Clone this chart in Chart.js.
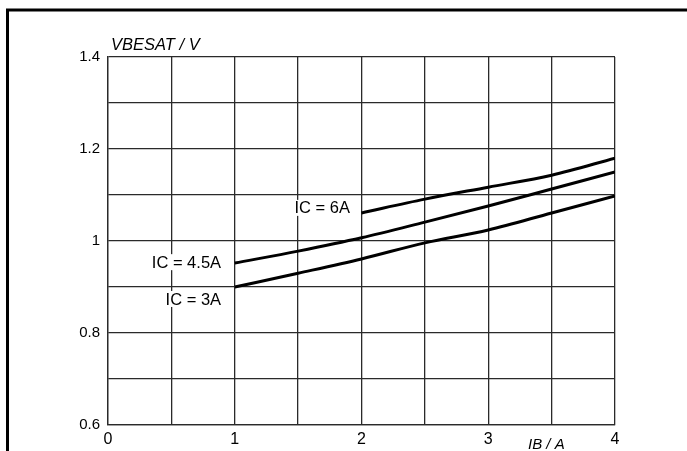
<!DOCTYPE html>
<html>
<head>
<meta charset="utf-8">
<script src="https://cdn.jsdelivr.net/npm/chart.js@4/dist/chart.umd.min.js"></script>
<style>
html,body{margin:0;padding:0;background:#fff;}
#wrap{width:687px;height:451px;position:relative;}
</style>
</head>
<body>
<div id="wrap"><canvas id="c" width="687" height="451"></canvas></div>
<script>
// Data
const ib3 = [1, 1.5, 2, 2.5, 3, 3.5, 4];
const vbe3 = [0.900, 0.930, 0.961, 0.996, 1.024, 1.061, 1.098];
const ib45 = [1, 1.5, 2, 2.5, 3, 3.5, 4];
const vbe45 = [0.952, 0.978, 1.007, 1.041, 1.076, 1.113, 1.150];
const ib6 = [2, 2.5, 3, 3.5, 4];
const vbe6 = [1.061, 1.091, 1.117, 1.143, 1.180];

const xTickLabels = [0, 1, 2, 3, 4];
const yTickLabels = [0.6, 0.8, 1, 1.2, 1.4];

const curveLabels = ['IC = 6A', 'IC = 4.5A', 'IC = 3A'];
const curveLabelX = [1.909, 0.892, 0.892];   // right edge (IB value)
const curveLabelY = [1.072, 0.954, 0.874];   // vertical centre (V value)

const xTitle = 'IB / A';
const yTitle = 'VBESAT / V';

function pts(xs, ys){ return xs.map((x,i)=>({x:x, y:ys[i]})); }

const FONT = '"Liberation Sans", Arial, Helvetica, sans-serif';
const GRID = '#2a2a2a';

const decor = {
  id: 'decor',
  beforeDraw(chart){
    const ctx = chart.ctx;
    ctx.save();
    ctx.fillStyle = '#fff';
    ctx.fillRect(0,0,chart.width,chart.height);
    ctx.restore();
  },
  afterDraw(chart){
    const ctx = chart.ctx;
    const xs = chart.scales.x, ys = chart.scales.y;
    ctx.save();
    // outer frame (top and left)
    ctx.strokeStyle = '#000';
    ctx.lineWidth = 3;
    ctx.beginPath();
    ctx.moveTo(7.5, 451);
    ctx.lineTo(7.5, 10);
    ctx.lineTo(687, 10);
    ctx.stroke();
    // curve labels
    ctx.font = '16.5px ' + FONT;
    ctx.textBaseline = 'middle';
    ctx.textAlign = 'right';
    for (let i = 0; i < curveLabels.length; i++){
      const px = xs.getPixelForValue(curveLabelX[i]);
      const py = ys.getPixelForValue(curveLabelY[i]);
      const w = ctx.measureText(curveLabels[i]).width;
      ctx.fillStyle = '#fff';
      ctx.fillRect(px - w - 1, py - 8, w + 2, 16);
      ctx.fillStyle = '#000';
      ctx.fillText(curveLabels[i], px, py + 1);
    }
    // axis titles
    ctx.font = 'italic 16.5px ' + FONT;
    ctx.textAlign = 'left';
    ctx.textBaseline = 'alphabetic';
    ctx.fillText(yTitle, 111, 50);
    ctx.font = 'italic 15px ' + FONT;
    ctx.fillText(xTitle, 528, 449);
    ctx.restore();
  }
};

new Chart(document.getElementById('c'), {
  type: 'line',
  data: {
    datasets: [
      { label: 'IC = 6A', data: pts(ib6, vbe6) },
      { label: 'IC = 4.5A', data: pts(ib45, vbe45) },
      { label: 'IC = 3A', data: pts(ib3, vbe3) }
    ].map(d => Object.assign(d, {
      borderColor: '#000', borderWidth: 3, pointRadius: 0,
      fill: false, cubicInterpolationMode: 'monotone'
    }))
  },
  options: {
    responsive: false,
    animation: false,
    devicePixelRatio: 1,
    layout: { padding: { top: 57, right: 72, left: 0, bottom: 0 } },
    plugins: { legend: { display: false }, tooltip: { enabled: false } },
    scales: {
      x: {
        type: 'linear', min: 0, max: 4,
        afterFit(s){ s.height = 26; },
        grid: { color: GRID, lineWidth: 1.3, drawTicks: false },
        border: { color: GRID, width: 1.3 },
        ticks: {
          stepSize: 0.5, padding: 5, color: '#000',
          font: { family: FONT, size: 16 },
          maxRotation: 0, autoSkip: false,
          callback(v){ return xTickLabels.some(t => Math.abs(t - v) < 1e-6) ? String(v) : ''; }
        }
      },
      y: {
        type: 'linear', min: 0.6, max: 1.4,
        afterFit(s){ s.width = 108; },
        grid: { color: GRID, lineWidth: 1.3, drawTicks: false },
        border: { color: GRID, width: 1.3 },
        ticks: {
          stepSize: 0.1, padding: 8, color: '#000',
          font: { family: FONT, size: 15 },
          autoSkip: false,
          callback(v){
            const t = yTickLabels.find(t => Math.abs(t - v) < 1e-6);
            return t === undefined ? '' : String(t);
          }
        }
      }
    }
  },
  plugins: [decor]
});
</script>
</body>
</html>
